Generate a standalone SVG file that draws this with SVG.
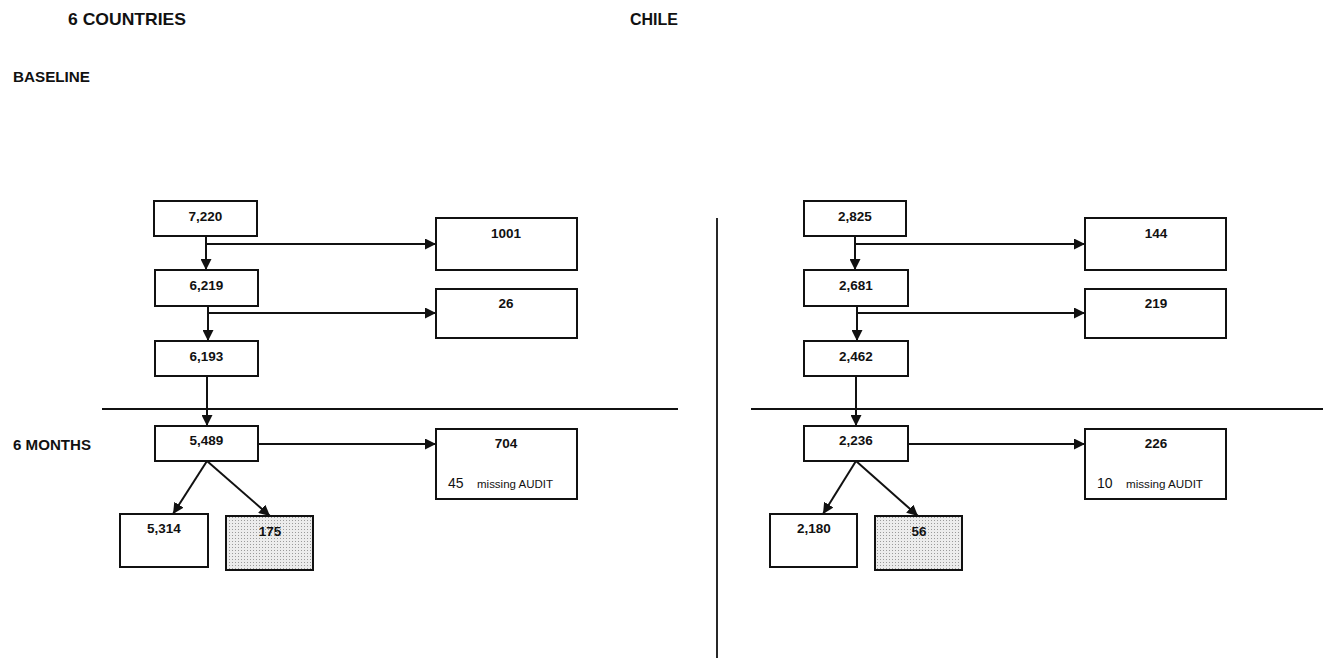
<svg xmlns="http://www.w3.org/2000/svg" width="1323" height="658" viewBox="0 0 1323 658">
<style>
.bx{fill:#fff;stroke:#111;stroke-width:2}
.dot{fill:url(#stip);stroke:#111;stroke-width:2}
.n{font-family:"Liberation Sans",Arial,sans-serif;font-size:13.5px;font-weight:bold;fill:#111;text-anchor:middle}
.h{font-family:"Liberation Sans",Arial,sans-serif;font-weight:bold;fill:#111}
.s{font-family:"Liberation Sans",Arial,sans-serif;fill:#111}
.c{stroke:#111;stroke-width:2;fill:none}
.d{stroke:#111;stroke-width:1.8;fill:none}
</style>
<defs>
<pattern id="stip" width="3" height="3" patternUnits="userSpaceOnUse">
<rect width="3" height="3" fill="#ececec"/>
<rect x="1" y="1" width="1" height="1" fill="#9a9a9a"/>
</pattern>
<marker id="ah" markerUnits="userSpaceOnUse" markerWidth="12" markerHeight="11" refX="11" refY="5.5" orient="auto">
<path d="M0,0 L11,5.5 L0,11 Z" fill="#111"/>
</marker>
</defs>

<g id="headers">
<text class="h" x="68" y="25" font-size="17" textLength="118" lengthAdjust="spacingAndGlyphs">6 COUNTRIES</text>
<text class="h" x="630" y="25" font-size="17" textLength="48" lengthAdjust="spacingAndGlyphs">CHILE</text>
<text class="h" x="13" y="82" font-size="15" textLength="77" lengthAdjust="spacingAndGlyphs">BASELINE</text>
<text class="h" x="13" y="450" font-size="14" textLength="78" lengthAdjust="spacingAndGlyphs">6 MONTHS</text>
</g>

<g id="dividers">
<line class="d" x1="102" y1="409" x2="678" y2="409"/>
<line class="d" x1="751" y1="409" x2="1323" y2="409"/>
<line class="d" x1="717" y1="218" x2="717" y2="658"/>
</g>

<g id="connectors">
<line class="c" x1="206" y1="236" x2="206" y2="270" marker-end="url(#ah)"/>
<line class="c" x1="206" y1="244" x2="436" y2="244" marker-end="url(#ah)"/>
<line class="c" x1="208" y1="306" x2="208" y2="341" marker-end="url(#ah)"/>
<line class="c" x1="208" y1="313" x2="436" y2="313" marker-end="url(#ah)"/>
<line class="c" x1="207" y1="373" x2="207" y2="426" marker-end="url(#ah)"/>
<line class="c" x1="258" y1="444" x2="436" y2="444" marker-end="url(#ah)"/>
<line class="c" x1="207" y1="461" x2="173" y2="514" marker-end="url(#ah)"/>
<line class="c" x1="207" y1="461" x2="270" y2="516" marker-end="url(#ah)"/>

<line class="c" x1="855" y1="236" x2="855" y2="270" marker-end="url(#ah)"/>
<line class="c" x1="855" y1="244" x2="1085" y2="244" marker-end="url(#ah)"/>
<line class="c" x1="857" y1="306" x2="857" y2="341" marker-end="url(#ah)"/>
<line class="c" x1="857" y1="313" x2="1085" y2="313" marker-end="url(#ah)"/>
<line class="c" x1="856" y1="373" x2="856" y2="426" marker-end="url(#ah)"/>
<line class="c" x1="908" y1="444" x2="1085" y2="444" marker-end="url(#ah)"/>
<line class="c" x1="856" y1="461" x2="823" y2="514" marker-end="url(#ah)"/>
<line class="c" x1="856" y1="461" x2="918" y2="516" marker-end="url(#ah)"/>
</g>

<g id="n7220"><rect class="bx" x="154" y="201" width="103" height="35"/><text class="n" x="205.5" y="221">7,220</text></g>
<g id="n1001"><rect class="bx" x="436" y="218" width="141" height="52"/><text class="n" x="506" y="238">1001</text></g>
<g id="n6219"><rect class="bx" x="155" y="270" width="103" height="36"/><text class="n" x="206.5" y="290">6,219</text></g>
<g id="n26"><rect class="bx" x="436" y="289" width="141" height="49"/><text class="n" x="506" y="308">26</text></g>
<g id="n6193"><rect class="bx" x="155" y="341" width="103" height="35"/><text class="n" x="206.5" y="361">6,193</text></g>
<g id="n5489"><rect class="bx" x="155" y="426" width="103" height="35"/><text class="n" x="206.5" y="445">5,489</text></g>
<g id="n704"><rect class="bx" x="436" y="429" width="141" height="70"/><text class="n" x="506" y="448">704</text>
<text class="s" x="448" y="488" font-size="14">45</text><text class="s" x="477" y="488" font-size="11" textLength="76" lengthAdjust="spacingAndGlyphs">missing AUDIT</text></g>
<g id="n5314"><rect class="bx" x="120" y="514" width="88" height="53"/><text class="n" x="164" y="533">5,314</text></g>
<g id="n175"><rect class="dot" x="226" y="516" width="87" height="54"/><text class="n" x="270" y="536">175</text></g>

<g id="n2825"><rect class="bx" x="804" y="201" width="102" height="35"/><text class="n" x="855" y="221">2,825</text></g>
<g id="n144"><rect class="bx" x="1085" y="218" width="141" height="52"/><text class="n" x="1156" y="238">144</text></g>
<g id="n2681"><rect class="bx" x="804" y="270" width="104" height="36"/><text class="n" x="856" y="290">2,681</text></g>
<g id="n219"><rect class="bx" x="1085" y="289" width="141" height="49"/><text class="n" x="1156" y="308">219</text></g>
<g id="n2462"><rect class="bx" x="804" y="341" width="104" height="35"/><text class="n" x="856" y="361">2,462</text></g>
<g id="n2236"><rect class="bx" x="804" y="426" width="104" height="35"/><text class="n" x="856" y="445">2,236</text></g>
<g id="n226"><rect class="bx" x="1085" y="429" width="141" height="70"/><text class="n" x="1156" y="448">226</text>
<text class="s" x="1097" y="488" font-size="14">10</text><text class="s" x="1126" y="488" font-size="11" textLength="77" lengthAdjust="spacingAndGlyphs">missing AUDIT</text></g>
<g id="n2180"><rect class="bx" x="770" y="514" width="87" height="53"/><text class="n" x="814" y="533">2,180</text></g>
<g id="n56"><rect class="dot" x="875" y="516" width="87" height="54"/><text class="n" x="919" y="536">56</text></g>
</svg>
